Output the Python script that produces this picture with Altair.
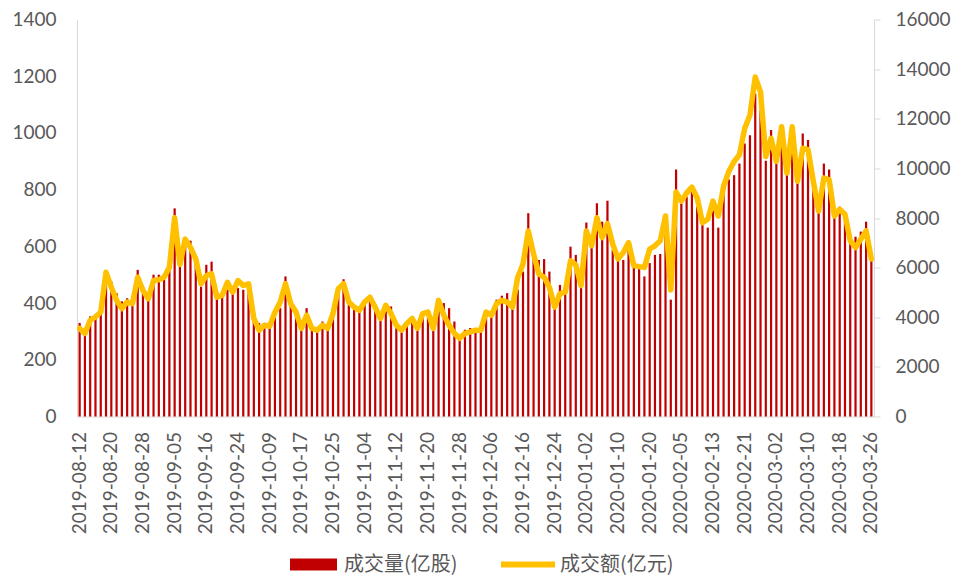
import altair as alt
import pandas as pd

# Chinese market holidays (non-trading weekdays) inside the period
holidays = [
    "2019-09-13",
    "2019-10-01", "2019-10-02", "2019-10-03", "2019-10-04", "2019-10-07",
    "2020-01-01",
    "2020-01-24", "2020-01-27", "2020-01-28", "2020-01-29", "2020-01-30", "2020-01-31",
]
dates = [d.strftime("%Y-%m-%d") for d in pd.bdate_range("2019-08-12", "2020-03-26")
         if d.strftime("%Y-%m-%d") not in holidays]

tick_labels = [
    "2019-08-12", "2019-08-20", "2019-08-28", "2019-09-05", "2019-09-16", "2019-09-24",
    "2019-10-09", "2019-10-17", "2019-10-25", "2019-11-04", "2019-11-12", "2019-11-20",
    "2019-11-28", "2019-12-06", "2019-12-16", "2019-12-24", "2020-01-02", "2020-01-10",
    "2020-01-20", "2020-02-05", "2020-02-13", "2020-02-21", "2020-03-02", "2020-03-10",
    "2020-03-18", "2020-03-26",
]

# 成交量(亿股)
volume = [
    330, 310, 353, 359, 376, 490, 476, 435, 406, 417, 412, 517, 461, 435, 500, 500, 482, 529, 734,
    545, 623, 620, 564, 458, 535, 546, 423, 423, 447, 447, 453, 447, 458, 353, 330, 330, 324, 360,
    382, 494, 394, 371, 318, 382, 312, 306, 335, 312, 353, 435, 484, 400, 382, 376, 394, 423,
    395, 347, 400, 388, 312, 306, 330, 353, 312, 371, 376, 312, 406, 400, 382, 335, 288, 306, 312,
    306, 306, 359, 359, 412, 426, 435, 388, 447, 511, 717, 570, 552, 555, 511, 388, 464, 441, 599,
    570, 453, 684, 599, 752, 687, 761, 587, 552, 552, 611, 529, 520, 494, 541, 570, 573, 700, 412,
    871, 752, 775, 793, 740, 675, 666, 740, 666, 787, 836, 851, 892, 963, 992, 1139, 1080, 902,
    1010, 892, 1021, 857, 1021, 828, 998, 975, 810, 728, 892, 871, 711, 740, 717, 629, 634, 652,
    687, 564,
]

# 成交额(亿元)
amount = [
    3550, 3350, 3880, 4010, 4210, 5810, 5210, 4680, 4350, 4610, 4550, 5610, 5080, 4750, 5480, 5510,
    5610, 6010, 8010, 6130, 7150, 6810, 6350, 5350, 5680, 5750, 4810, 4880, 5410, 5010, 5480, 5280,
    5350, 3950, 3480, 3680, 3640, 4200, 4610, 5350, 4550, 4210, 3550, 4080, 3550, 3480, 3680, 3550,
    4150, 5150, 5350, 4610, 4410, 4280, 4610, 4810, 4400, 3950, 4480, 4150, 3680, 3480, 3750, 3950,
    3550, 4150, 4210, 3550, 4680, 4080, 3680, 3350, 3150, 3350, 3410, 3480, 3480, 4210, 4080, 4550,
    4680, 4610, 4410, 5610, 6150, 7480, 6550, 5750, 5610, 5210, 4410, 4950, 5010, 6280, 6110, 5280,
    7480, 6880, 8010, 7210, 7770, 6950, 6350, 6610, 7010, 6080, 6040, 6010, 6750, 6880, 7080, 8080,
    5100, 9050, 8680, 9010, 9240, 8810, 7810, 7950, 8680, 8080, 9280, 9880, 10280, 10550, 11610,
    12150, 13680, 13080, 10480, 11210, 10280, 11680, 9810, 11680, 9480, 10810, 10750, 9480, 8280,
    9610, 9550, 8080, 8350, 8150, 7080, 6810, 7150, 7480, 6350,
]

vol_name = "成交量(亿股)"
amt_name = "成交额(亿元)"

df = pd.DataFrame({"date": dates, "vol": volume, "amt": amount,
                   "s1": vol_name, "s2": amt_name})

LABEL = "#595959"
AXIS = "#D9D9D9"
FONT = "Lato"
CJK = "Noto Sans CJK SC"

x = alt.X(
    "date:O", sort=None, title=None,
    scale=alt.Scale(paddingInner=0.58, paddingOuter=0.29),
    axis=alt.Axis(values=tick_labels, labelAngle=270, tickSize=0, labelPadding=15,
                  labelFontSize=19, labelFont=FONT, labelColor=LABEL,
                  domainColor=AXIS, labelOverlap=False),
)

bars = alt.Chart(df).mark_bar(color="#C00000").encode(
    x=x,
    y=alt.Y("vol:Q", title=None, scale=alt.Scale(domain=[0, 1400]),
            axis=alt.Axis(orient="left", values=list(range(0, 1401, 200)), format="d",
                          tickSize=0, labelPadding=21, labelFontSize=19, labelFont=FONT,
                          labelColor=LABEL, domainColor=AXIS, grid=False)),
    color=alt.Color("s1:N", title=None, scale=alt.Scale(range=["#C00000"]),
                    legend=alt.Legend(orient="none", legendX=213, legendY=521.5,
                                      symbolType="M-1,-0.255H1V0.255H-1Z", symbolSize=2209,
                                      symbolStrokeWidth=0, symbolOpacity=1,
                                      labelFont=CJK, labelFontSize=20,
                                      labelColor=LABEL, labelOffset=7)),
)

line = alt.Chart(df).mark_line(strokeWidth=5.5, strokeJoin="round", strokeCap="round").encode(
    x=x,
    y=alt.Y("amt:Q", title=None, scale=alt.Scale(domain=[0, 16000]),
            axis=alt.Axis(orient="right", values=list(range(0, 16001, 2000)), format="d",
                          tickSize=6, tickColor=AXIS, labelPadding=15, labelFontSize=19,
                          labelFont=FONT, labelColor=LABEL, domainColor=AXIS, grid=False)),
    stroke=alt.Stroke("s2:N", title=None, scale=alt.Scale(range=["#FFC000"]),
                      legend=alt.Legend(orient="none", legendX=421, legendY=515,
                                        symbolType="stroke", symbolSize=2916,
                                        symbolStrokeWidth=6, labelFont=CJK, labelFontSize=20,
                                        labelColor=LABEL, labelOffset=2)),
)

chart = alt.layer(bars, line).resolve_scale(y="independent").properties(
    width=797, height=397,
    autosize=alt.AutoSizeParams(type="none"),
    padding={"left": 69, "top": 11.5, "right": 79, "bottom": 163},
).configure_view(stroke=None).configure_axis(grid=False)

chart.save("out.html", embed_options={"renderer": "svg", "actions": False})
